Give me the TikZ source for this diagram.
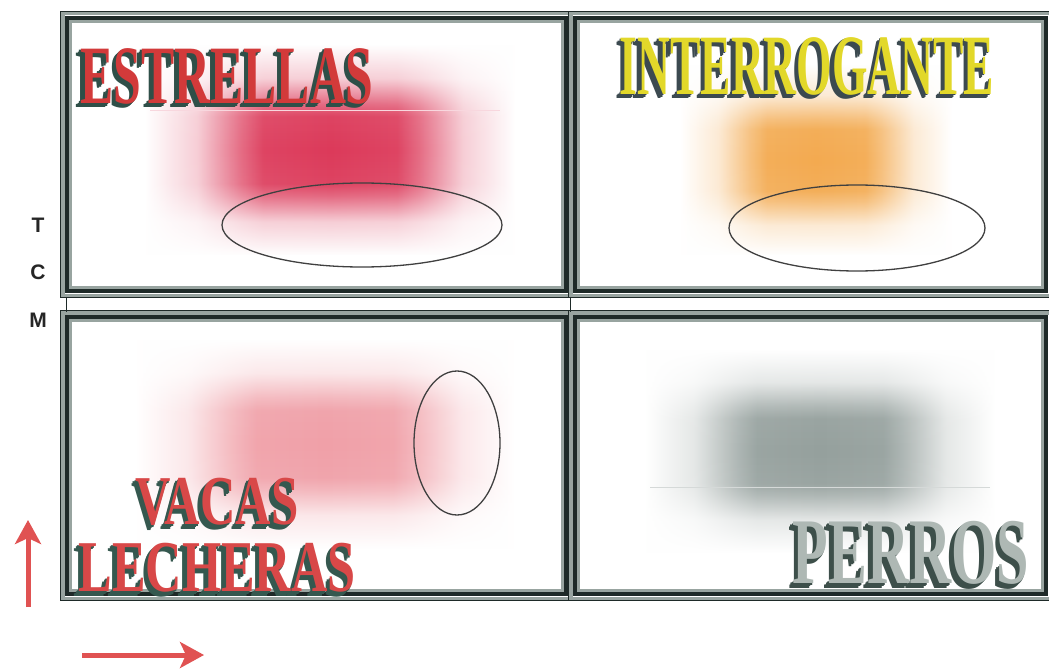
\documentclass[tikz,border=0pt]{standalone}
\usepackage{fontspec}
\usepackage{graphicx}
\setmainfont{Liberation Serif}
\newfontfamily\sansb{Liberation Sans}
\usetikzlibrary{arrows.meta,fadings}
\definecolor{framedark}{HTML}{1E2A28}
\definecolor{framegrey}{HTML}{98A4A0}
\definecolor{estfront}{HTML}{D23A3A}
\definecolor{estshadow}{HTML}{2F4F48}
\definecolor{intfront}{HTML}{E2D82A}
\definecolor{intshadow}{HTML}{3C4A50}
\definecolor{vacfront}{HTML}{D84848}
\definecolor{vacshadow}{HTML}{35584F}
\definecolor{perfront}{HTML}{AEB8B4}
\definecolor{pershadow}{HTML}{3D4F4A}
\definecolor{blobred}{HTML}{DC3A5A}
\definecolor{bloborange}{HTML}{F3AA50}
\definecolor{blobpink}{HTML}{F0A0A8}
\definecolor{blobgrey}{HTML}{95A09D}
\definecolor{arrowred}{HTML}{E05252}
\pgfdeclareverticalshading{vfadeshade}{100bp}{color(0bp)=(pgftransparent!100); color(25bp)=(pgftransparent!100); color(33bp)=(pgftransparent!75); color(39bp)=(pgftransparent!25); color(42bp)=(pgftransparent!5); color(50bp)=(pgftransparent!0); color(58bp)=(pgftransparent!5); color(61bp)=(pgftransparent!25); color(67bp)=(pgftransparent!75); color(75bp)=(pgftransparent!100); color(100bp)=(pgftransparent!100)}
\pgfdeclarefading{vfade}{\pgfuseshading{vfadeshade}}
\newcommand{\mkblobshade}[2]{%
  \pgfdeclarehorizontalshading{#1}{100bp}{color(0bp)=(white); color(25bp)=(white); color(32bp)=(#2!25!white); color(38bp)=(#2!75!white); color(41bp)=(#2!95!white); color(50bp)=(#2); color(59bp)=(#2!95!white); color(62bp)=(#2!75!white); color(68bp)=(#2!25!white); color(75bp)=(white); color(100bp)=(white)}}
\mkblobshade{hred}{blobred}
\mkblobshade{horange}{bloborange}
\mkblobshade{hpink}{blobpink}
\mkblobshade{hgrey}{blobgrey}
\newcommand{\wordart}[8]{%
  \foreach \k in {3,2,1}{%
    \node[wa] (#1s\k) at ({#2-1.5*\k},{#3+1.5*\k}) {\color{#7}\scalebox{#5}[1]{\fontsize{#4}{#4}\selectfont\bfseries #8}};}
  \node[wa] (#1) at (#2,#3) {\color{#6}\scalebox{#5}[1]{\fontsize{#4}{#4}\selectfont\bfseries #8}};}
\newcommand{\quadframe}[4]{% x1 y1 x2 y2
  \draw[framegrey, line width=4pt] ({#1+2.5},{#2+2.5}) rectangle ({#3-2.5},{#4-2.5});
  \draw[framegrey, line width=4pt] ({#1+10},{#2+10}) rectangle ({#3-10},{#4-10});
  \draw[framedark, line width=1.2pt] ({#1+0.6},{#2+0.6}) rectangle ({#3-0.6},{#4-0.6});
  \draw[framedark, line width=4pt] ({#1+7},{#2+7}) rectangle ({#3-7},{#4-7});}
\begin{document}
\begin{tikzpicture}[x=1pt,y=-1pt,
  wa/.style={inner sep=0pt, anchor=center},
  axislabel/.style={inner sep=0pt, font=\sansb\bfseries\fontsize{21}{21}\selectfont, text=black!85},
  redarrow/.style={arrowred, line width=5pt, -{Stealth[length=24pt, width=26pt, inset=6pt]}},
  oval/.style={draw=black!75, line width=1.3pt}]
\useasboundingbox (0,0) rectangle (1049,671);
\fill[white] (0,0) rectangle (1049,671);
% blurred blobs
\shade[shading=hred, path fading=vfade] (145,45) rectangle (515,255);
\shade[shading=horange, path fading=vfade] (680,65) rectangle (952,255);
\shade[shading=hpink, path fading=vfade] (135,340) rectangle (515,548);
\shade[shading=hgrey, path fading=vfade] (645,350) rectangle (995,552);
% faint scan lines
\draw[blobred!20, line width=0.6pt] (150,110) -- (500,110);
\draw[blobgrey!40, line width=0.6pt] (650,487) -- (990,487);
% frames
\quadframe{60}{11}{573}{298}
\quadframe{568}{11}{1053}{298}
\quadframe{60}{310}{573}{601}
\quadframe{568}{310}{1053}{601}
\draw[framedark, line width=1pt] (66,297) -- (66,312);
\draw[framedark, line width=1pt] (570.5,297) -- (570.5,312);
% ellipses
\draw[oval] (362,225) ellipse [x radius=140pt, y radius=42pt];
\draw[oval] (857,228) ellipse [x radius=128pt, y radius=43pt];
\draw[oval] (457,443) ellipse [x radius=43pt, y radius=72pt];
% titles
\wordart{estrellas}{227}{76}{83}{0.6}{estfront}{estshadow}{ESTRELLAS}
\wordart{interrogante}{807}{66}{86}{0.53}{intfront}{intshadow}{INTERROGANTE}
\wordart{vacas}{217}{502}{70}{0.7}{vacfront}{vacshadow}{VACAS}
\wordart{lecheras}{217}{568}{73}{0.69}{vacfront}{vacshadow}{LECHERAS}
\wordart{perros}{911}{553}{94}{0.62}{perfront}{pershadow}{PERROS}
% axis letters
\node[axislabel] (lT) at (38,225) {T};
\node[axislabel] (lC) at (38,272) {C};
\node[axislabel] (lM) at (38,320) {M};
% arrows
\coordinate (upS) at (28,607);
\coordinate (upE) at (28,520);
\coordinate (rtS) at (82,655);
\coordinate (rtE) at (204,655);
\draw[redarrow] (upS) -- (upE);
\draw[redarrow] (rtS) -- (rtE);
\end{tikzpicture}
\end{document}
